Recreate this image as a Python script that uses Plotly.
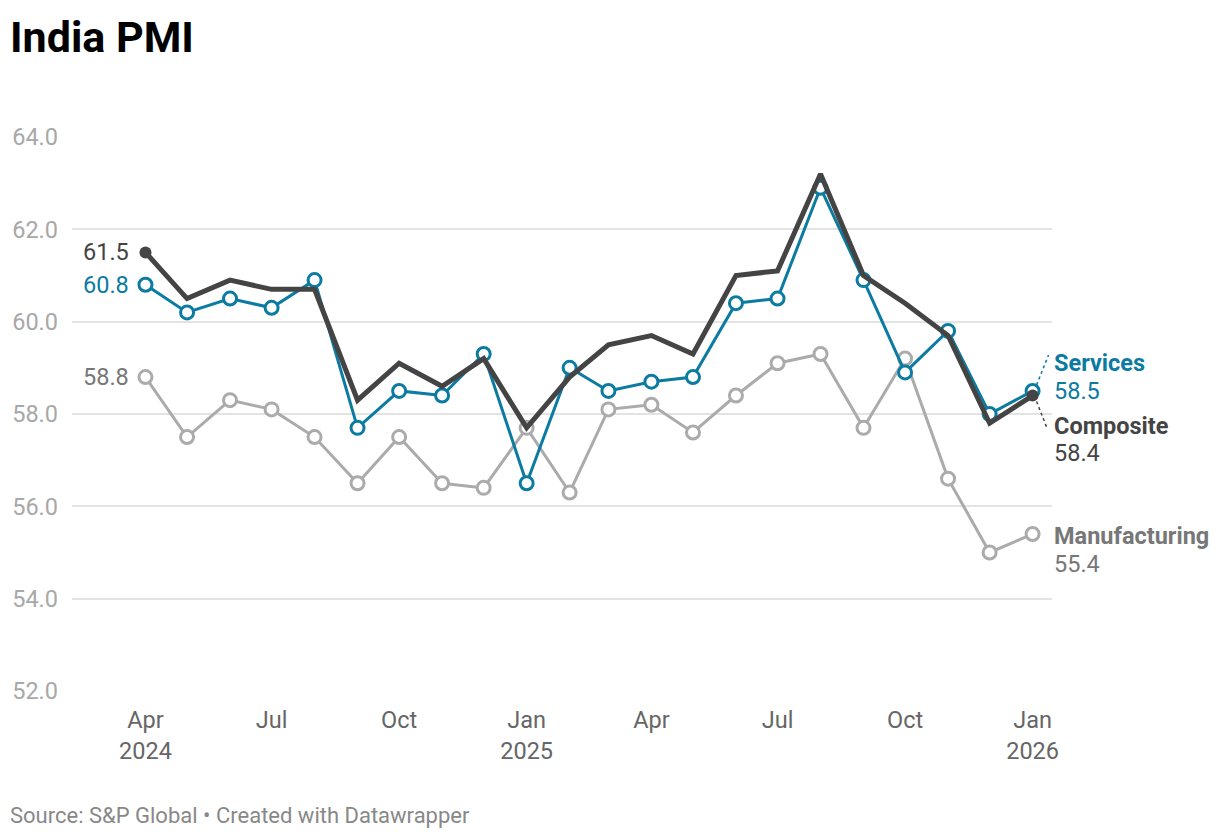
import plotly.graph_objects as go
import pandas as pd

months = pd.date_range("2024-04-01", "2026-01-01", freq="MS")

services = [60.8, 60.2, 60.5, 60.3, 60.9, 57.7, 58.5, 58.4, 59.3, 56.5, 59.0,
            58.5, 58.7, 58.8, 60.4, 60.5, 62.9, 60.9, 58.9, 59.8, 58.0, 58.5]
composite = [61.5, 60.5, 60.9, 60.7, 60.7, 58.3, 59.1, 58.6, 59.2, 57.7, 58.8,
             59.5, 59.7, 59.3, 61.0, 61.1, 63.2, 61.0, 60.4, 59.7, 57.8, 58.4]
manufacturing = [58.8, 57.5, 58.3, 58.1, 57.5, 56.5, 57.5, 56.5, 56.4, 57.7, 56.3,
                 58.1, 58.2, 57.6, 58.4, 59.1, 59.3, 57.7, 59.2, 56.6, 55.0, 55.4]

tick_dates = ["2024-04-01", "2024-07-01", "2024-10-01", "2025-01-01",
              "2025-04-01", "2025-07-01", "2025-10-01", "2026-01-01"]
tick_text = ["Apr<br>2024", "Jul", "Oct", "Jan<br>2025", "Apr", "Jul", "Oct", "Jan<br>2026"]
y_ticks = [52, 54, 56, 58, 60, 62, 64]

C_SERV = "#0b7ba2"
C_COMP = "#444444"
C_MANU = "#ababab"
C_MANU_TXT = "#777777"
FONT = "Roboto"
FS = 23.5

fig = go.Figure()

fig.add_trace(go.Scatter(
    x=months, y=manufacturing, mode="lines+markers", name="Manufacturing",
    line=dict(color=C_MANU, width=3),
    marker=dict(symbol="circle", size=13, color="white", line=dict(color=C_MANU, width=3)),
    hoverinfo="skip"))

fig.add_trace(go.Scatter(
    x=months, y=services, mode="lines+markers", name="Services",
    line=dict(color=C_SERV, width=3),
    marker=dict(symbol="circle", size=13, color="white", line=dict(color=C_SERV, width=3)),
    hoverinfo="skip"))

fig.add_trace(go.Scatter(
    x=months, y=composite, mode="lines", name="Composite",
    line=dict(color=C_COMP, width=5),
    hoverinfo="skip"))

fig.add_trace(go.Scatter(
    x=[months[0], months[-1]], y=[composite[0], composite[-1]], mode="markers",
    marker=dict(symbol="circle", size=12, color=C_COMP),
    hoverinfo="skip", showlegend=False))

# start labels
for vals, col in [(composite, C_COMP), (services, C_SERV), (manufacturing, C_MANU_TXT)]:
    fig.add_annotation(x=months[0], y=vals[0], text=f"{vals[0]:.1f}", showarrow=False,
                       xanchor="right", yanchor="middle", xshift=-14,
                       font=dict(family=FONT, size=FS, color=col))

# end labels (name line and value line)
end_specs = [
    ("Services", services[-1], C_SERV, 28, 0),
    ("Composite", composite[-1], C_COMP, -30, -57),
    ("Manufacturing", manufacturing[-1], C_MANU_TXT, -2, -30),
]
for name, v, col, ys_name, ys_val in end_specs:
    fig.add_annotation(x=months[-1], y=v, text=f"<b>{name}</b>", showarrow=False,
                       xanchor="left", yanchor="middle", xshift=19, yshift=ys_name,
                       font=dict(family=FONT, size=FS, color=col))
    fig.add_annotation(x=months[-1], y=v, text=f"{v:.1f}", showarrow=False,
                       xanchor="left", yanchor="middle", xshift=19, yshift=ys_val,
                       font=dict(family=FONT, size=FS, color=col))

# dotted connectors
fig.add_shape(type="line", xref="x", yref="y", xsizemode="pixel", ysizemode="pixel",
              xanchor=months[-1], yanchor=services[-1], x0=4, y0=6, x1=16, y1=36,
              line=dict(color=C_SERV, width=1.5, dash="dot"))
fig.add_shape(type="line", xref="x", yref="y", xsizemode="pixel", ysizemode="pixel",
              xanchor=months[-1], yanchor=composite[-1], x0=4, y0=-6, x1=15, y1=-34,
              line=dict(color=C_COMP, width=1.5, dash="dot"))

fig.update_layout(
    width=1220, height=838,
    margin=dict(l=69, r=168, t=137, b=147),
    paper_bgcolor="white", plot_bgcolor="white",
    showlegend=False,
    font=dict(family=FONT),
    title=dict(text="<b>India PMI</b>", x=10 / 1220, xanchor="left", xref="container",
               y=1 - 37 / 838, yanchor="middle", yref="container",
               font=dict(family=FONT, size=43, color="#000000")),
    xaxis=dict(type="date", range=["2024-02-08", "2026-01-15"],
               tickvals=tick_dates, ticktext=tick_text,
               showgrid=False, zeroline=False, showline=False,
               ticks="outside", ticklen=8, tickcolor="rgba(0,0,0,0)",
               tickfont=dict(family=FONT, size=FS, color="#666666")),
    yaxis=dict(range=[52, 64], tickvals=y_ticks, ticktext=[f"{t:.1f}" for t in y_ticks],
               showgrid=True, gridcolor="#e3e3e3", gridwidth=1.5, zeroline=False, showline=False,
               ticks="", ticklabelstandoff=13,
               tickfont=dict(family=FONT, size=FS, color="#a8a8a8")),
)

fig.add_annotation(text="Source: S&P Global • Created with Datawrapper", xref="paper", yref="paper",
                   x=-64 / 983, y=-(815 - 691) / 554, xanchor="left", yanchor="middle",
                   showarrow=False, font=dict(family=FONT, size=22, color="#888888"))

fig.write_html("out.html", config={"displayModeBar": False},
               post_script="document.body.style.margin='0';document.body.style.padding='0';")
